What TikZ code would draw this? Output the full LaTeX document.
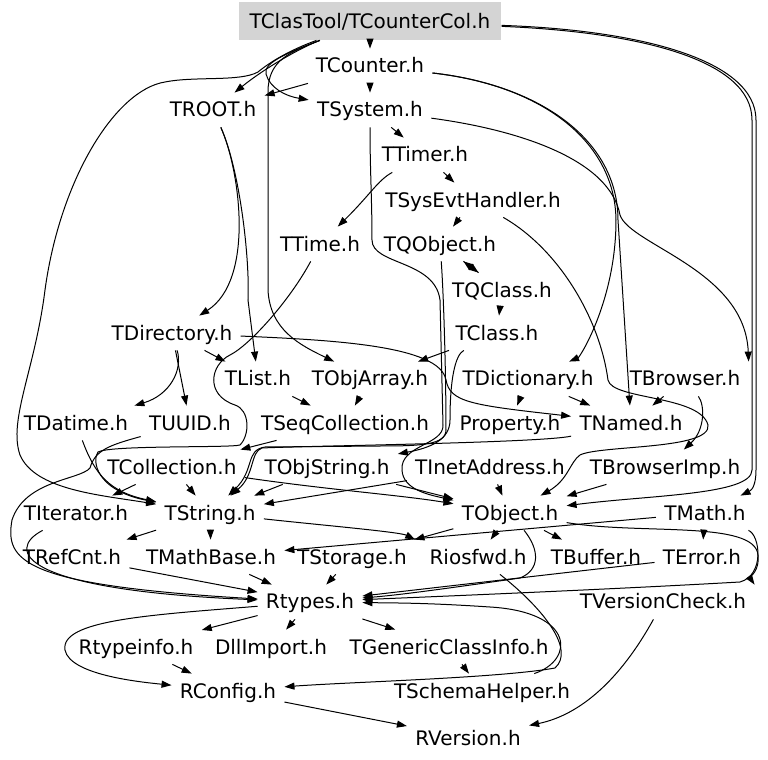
\documentclass[tikz,border=0pt]{standalone}
\usepackage{fontspec}
\setmainfont{DejaVu Sans}
\usepackage{tikz}
\usetikzlibrary{arrows.meta}

\begin{document}
\begin{tikzpicture}[
    x=0.5pt, y=-0.5pt,
    hfile/.style={inner xsep=4pt, inner ysep=4pt, text height=8pt, text depth=1pt, font=\fontsize{10}{12}\selectfont},
    top/.style={hfile, fill=black!17, inner xsep=5.5pt, minimum height=19pt},
    dep/.style={-{Triangle[length=5pt,width=3.5pt]}, line width=0.5pt, color=black}
]
\fill[white] (0,0) rectangle (768,760);
\useasboundingbox (0,0) rectangle (768,760);
% Nodes
\node[top] (col) at (370,21) {TClasTool/TCounterCol.h};
\node[hfile] (counter) at (370,66) {TCounter.h};
\node[hfile] (root) at (213,110) {TROOT.h};
\node[hfile] (system) at (370,110) {TSystem.h};
\node[hfile] (timer) at (425,155) {TTimer.h};
\node[hfile] (sysevt) at (473,200) {TSysEvtHandler.h};
\node[hfile] (time) at (320,244) {TTime.h};
\node[hfile] (qobject) at (440,244) {TQObject.h};
\node[hfile] (qclass) at (502,290) {TQClass.h};
\node[hfile] (class) at (497,333) {TClass.h};
\node[hfile] (directory) at (172,333) {TDirectory.h};
\node[hfile] (list) at (258,379) {TList.h};
\node[hfile] (objarray) at (370,379) {TObjArray.h};
\node[hfile] (dictionary) at (528,379) {TDictionary.h};
\node[hfile] (browser) at (685,379) {TBrowser.h};
\node[hfile] (datime) at (76,423) {TDatime.h};
\node[hfile] (uuid) at (190,423) {TUUID.h};
\node[hfile] (seqcoll) at (345,423) {TSeqCollection.h};
\node[hfile] (property) at (510,423) {Property.h};
\node[hfile] (named) at (631,423) {TNamed.h};
\node[hfile] (collection) at (172,467) {TCollection.h};
\node[hfile] (objstring) at (327,467) {TObjString.h};
\node[hfile] (inet) at (490,467) {TInetAddress.h};
\node[hfile] (browserimp) at (665,467) {TBrowserImp.h};
\node[hfile] (iterator) at (76,513) {TIterator.h};
\node[hfile] (string) at (210,513) {TString.h};
\node[hfile] (object) at (510,513) {TObject.h};
\node[hfile] (math) at (705,513) {TMath.h};
\node[hfile] (refcnt) at (72,557) {TRefCnt.h};
\node[hfile] (mathbase) at (211,557) {TMathBase.h};
\node[hfile] (storage) at (352,557) {TStorage.h};
\node[hfile] (riosfwd) at (478,557) {Riosfwd.h};
\node[hfile] (buffer) at (596,557) {TBuffer.h};
\node[hfile] (error) at (702,557) {TError.h};
\node[hfile] (rtypes) at (310,602) {Rtypes.h};
\node[hfile] (versioncheck) at (663,602) {TVersionCheck.h};
\node[hfile] (rtypeinfo) at (136,647) {Rtypeinfo.h};
\node[hfile] (dllimport) at (271,647) {DllImport.h};
\node[hfile] (genericci) at (449,647) {TGenericClassInfo.h};
\node[hfile] (rconfig) at (228,691) {RConfig.h};
\node[hfile] (schemahelper) at (482,691) {TSchemaHelper.h};
\node[hfile] (rversion) at (468,738) {RVersion.h};
% Arrows - from the top file
\draw[dep] (col) -- (counter);
\draw[dep] (col) .. controls (300,48) and (265,68) .. (root);
\draw[dep] (col) .. controls (295,50) and (262,62) .. (266,74) .. controls (270,88) and (285,96) .. (system);
\draw[dep] (col) .. controls (290,52) and (268,60) .. (268,92) -- (268,290) .. controls (270,330) and (300,345) .. (objarray);
\draw[dep] (col) .. controls (290,50) and (270,62) .. (258,72) .. controls (240,82) and (195,76) .. (165,82) .. controls (115,90) and (60,180) .. (45,290) .. controls (35,370) and (8,420) .. (20,455) .. controls (35,490) and (100,495) .. (string);
\draw[dep] (col) .. controls (640,30) and (756,60) .. (756,120) -- (756,470) .. controls (756,485) and (752,490) .. (math);
\draw[dep] (col) .. controls (640,32) and (752,60) .. (752,120) -- (752,470) .. controls (752,495) and (650,495) .. (object);
% Arrows - upper part
\draw[dep] (counter) -- (root);
\draw[dep] (counter) -- (system);
\draw[dep] (counter) .. controls (540,85) and (618,140) .. (618,220) -- (named);
\draw[dep] (counter) .. controls (540,85) and (615,140) .. (616,220) .. controls (616,300) and (580,357) .. (dictionary);
\draw[dep] (system) .. controls (520,130) and (610,160) .. (620,215) .. controls (630,245) and (745,270) .. (browser.north east);
\draw[dep] (system) -- (timer);
\draw[dep] (timer) -- (sysevt);
\draw[dep] (timer) .. controls (378,180) and (370,195) .. (time);
\draw[dep] (sysevt) -- (qobject);
\draw[dep] (qobject) -- (qclass);
\draw[dep] (qclass) -- (qobject);
\draw[dep] (qclass) -- (class);
\draw[dep] (system) .. controls (370,170) and (372,200) .. (372,240) .. controls (372,265) and (435,260) .. (440,300) -- (443,425) .. controls (444,445) and (400,445) .. (402,470) .. controls (403,490) and (430,495) .. (object);
\draw[dep] (qobject) .. controls (444,300) and (446,380) .. (446,430) .. controls (446,445) and (420,446) .. (380,446) -- (265,447) .. controls (245,450) and (255,470) .. (string);
\draw[dep] (class) .. controls (455,355) and (450,380) .. (450,420) .. controls (450,440) and (430,448) .. (objstring);
\draw[dep] (class) -- (objarray);
\draw[dep] (sysevt) .. controls (560,250) and (600,320) .. (608,380) .. controls (612,400) and (700,395) .. (708,425) .. controls (712,450) and (600,445) .. (580,455) .. controls (570,462) and (568,480) .. (object);
% Arrows - middle part
\draw[dep] (root) .. controls (240,170) and (255,280) .. (directory);
\draw[dep] (root) .. controls (240,170) and (250,260) .. (248,300) -- (list);
\draw[dep] (directory) -- (list);
\draw[dep] (directory) .. controls (183,370) and (170,395) .. (datime);
\draw[dep] (directory) -- (uuid);
\draw[dep] (directory) .. controls (330,340) and (440,345) .. (446,380) .. controls (450,402) and (470,405) .. (named);
\draw[dep] (time) .. controls (290,300) and (250,345) .. (230,355) .. controls (210,365) and (205,395) .. (235,405) .. controls (250,410) and (250,435) .. (240,445) .. controls (230,448) and (110,445) .. (98,452) .. controls (92,460) and (95,490) .. (string);
\draw[dep] (list) -- (seqcoll);
\draw[dep] (objarray) -- (seqcoll);
\draw[dep] (seqcoll) -- (collection);
\draw[dep] (dictionary) -- (property);
\draw[dep] (dictionary) -- (named);
\draw[dep] (browser) -- (named);
\draw[dep] (browser) .. controls (705,405) and (705,430) .. (browserimp);
\draw[dep] (named) .. controls (540,443) and (300,446) .. (262,448) .. controls (250,452) and (255,475) .. (string);
\draw[dep] (datime) .. controls (95,475) and (110,492) .. (string);
\draw[dep] (uuid) .. controls (110,445) and (95,450) .. (90,468) .. controls (80,480) and (25,480) .. (12,520) .. controls (5,560) and (20,585) .. (rtypes);
\draw[dep] (collection) -- (iterator);
\draw[dep] (collection) -- (string);
\draw[dep] (collection) .. controls (330,490) and (400,495) .. (object);
\draw[dep] (objstring) -- (string);
\draw[dep] (objstring) -- (object);
\draw[dep] (inet) -- (object);
\draw[dep] (inet) -- (string);
\draw[dep] (browserimp) -- (object);
% Arrows - lower part
\draw[dep] (iterator) .. controls (5,550) and (20,590) .. (rtypes);
\draw[dep] (string) -- (refcnt);
\draw[dep] (string) -- (mathbase);
\draw[dep] (string) .. controls (320,525) and (400,532) .. (storage.north east);
\draw[dep] (object) -- (storage);
\draw[dep] (object) -- (riosfwd);
\draw[dep] (object) -- (buffer);
\draw[dep] (object) .. controls (640,535) and (755,520) .. (758,555) .. controls (760,570) and (750,578) .. (versioncheck.north east);
\draw[dep] (object) .. controls (540,550) and (540,570) .. (520,578) .. controls (450,588) and (400,595) .. (rtypes);
\draw[dep] (math) -- (mathbase);
\draw[dep] (math) -- (error);
\draw[dep] (math) .. controls (760,535) and (765,575) .. (740,582) .. controls (600,590) and (400,598) .. (rtypes);
\draw[dep] (error) -- (rtypes);
\draw[dep] (refcnt) -- (rtypes);
\draw[dep] (mathbase) -- (rtypes);
\draw[dep] (storage) -- (rtypes);
\draw[dep] (rtypes) -- (rtypeinfo);
\draw[dep] (rtypes) -- (dllimport);
\draw[dep] (rtypes) -- (genericci);
\draw[dep] (rtypes) .. controls (150,615) and (60,620) .. (65,650) .. controls (70,675) and (140,682) .. (rconfig);
\draw[dep] (rtypeinfo) -- (rconfig);
\draw[dep] (genericci) -- (schemahelper);
\draw[dep] (schemahelper) .. controls (575,660) and (575,612) .. (490,607) .. controls (430,603) and (400,603) .. (rtypes);
\draw[dep] (riosfwd) .. controls (545,610) and (575,650) .. (555,668) .. controls (500,678) and (350,682) .. (rconfig);
\draw[dep] (rconfig) -- (rversion);
\draw[dep] (versioncheck) .. controls (620,680) and (580,715) .. (rversion);
\end{tikzpicture}
\end{document}
